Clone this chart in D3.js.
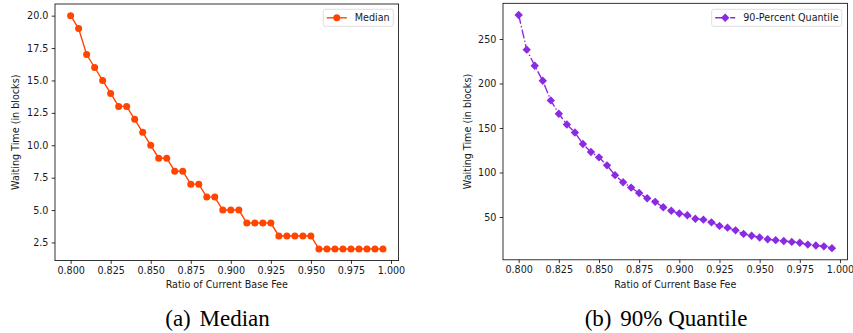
<!DOCTYPE html>
<html>
<head>
<meta charset="utf-8">
<script src="https://cdn.jsdelivr.net/npm/d3@7"></script>
<style>
body { margin: 0; background: #fff; }
svg { display: block; }
.sans { font-family: "DejaVu Sans", sans-serif; fill: #1a1a1a; }
.serif, .serif tspan { font-family: "Liberation Serif", "Times New Roman", serif; fill: #000; }
</style>
</head>
<body>
<svg id="chart" width="853" height="333"></svg>
<script>
// ratio of current base fee (x categories)
const ratios = [0.800, 0.805, 0.810, 0.815, 0.820, 0.825, 0.830, 0.835, 0.840, 0.845,
                0.850, 0.855, 0.860, 0.865, 0.870, 0.875, 0.880, 0.885, 0.890, 0.895,
                0.900, 0.905, 0.910, 0.915, 0.920, 0.925, 0.930, 0.935, 0.940, 0.945,
                0.950, 0.955, 0.960, 0.965, 0.970, 0.975, 0.980, 0.985, 0.990, 0.995];

// waiting time, median
const medianWait = [20, 19, 17, 16, 15, 14, 13, 13, 12, 11,
                    10, 9, 9, 8, 8, 7, 7, 6, 6, 5,
                    5, 5, 4, 4, 4, 4, 3, 3, 3, 3,
                    3, 2, 2, 2, 2, 2, 2, 2, 2, 2];

// waiting time, 90-percent quantile
const quantileWait = [277, 238, 220, 203, 181, 166, 154, 145, 132, 123,
                      117, 108, 97, 89, 83, 77, 71, 67, 61, 57,
                      54, 52, 48, 47, 44, 40, 38, 35, 31, 29,
                      27, 25, 24, 23, 22, 21, 19, 18, 17, 15];

const xTicks = [0.800, 0.825, 0.850, 0.875, 0.900, 0.925, 0.950, 0.975, 1.000];
const medianTicks = [2.5, 5.0, 7.5, 10.0, 12.5, 15.0, 17.5, 20.0];
const quantileTicks = [50, 100, 150, 200, 250];

const svg = d3.select("#chart");

// matplotlib-like 5% padding on a domain
function padded(ext) {
    var m = (ext[1] - ext[0]) * 0.05;
    return [ext[0] - m, ext[1] + m];
}

function drawPanel(p) {
    var x = d3.scaleLinear().domain(padded(d3.extent(ratios))).range([p.left, p.right]);
    var y = d3.scaleLinear().domain(padded(d3.extent(p.values))).range([p.bottom, p.top]);
    var g = svg.append("g");

    // axes
    var xa = g.append("g")
        .attr("transform", "translate(0," + p.bottom + ")")
        .call(d3.axisBottom(x).tickValues(xTicks).tickFormat(d3.format(".3f"))
            .tickSize(3.3).tickPadding(3.3));
    var ya = g.append("g")
        .attr("transform", "translate(" + p.left + ",0)")
        .call(d3.axisLeft(y).tickValues(p.ticks).tickFormat(p.fmt)
            .tickSize(3.3).tickPadding(3.3));
    [xa, ya].forEach(function (a) {
        a.attr("font-family", null).attr("font-size", null);
        a.select(".domain").remove();
        a.selectAll(".tick line").attr("stroke", "#000").attr("stroke-width", 0.8);
        a.selectAll(".tick text").attr("class", "sans").attr("font-size", "9.6px");
    });

    // frame
    g.append("rect")
        .attr("x", p.left).attr("y", p.top)
        .attr("width", p.right - p.left).attr("height", p.bottom - p.top)
        .attr("fill", "none").attr("stroke", "#000").attr("stroke-width", 0.8);

    // axis labels
    g.append("text").attr("class", "sans")
        .attr("x", (p.left + p.right) / 2).attr("y", 288)
        .attr("text-anchor", "middle").attr("font-size", "9.6px")
        .text("Ratio of Current Base Fee");
    g.append("text").attr("class", "sans")
        .attr("transform", "translate(" + p.ylabX + "," + (p.top + p.bottom) / 2 + ") rotate(-90)")
        .attr("text-anchor", "middle").attr("font-size", "9.6px")
        .text("Waiting Time (in blocks)");

    // series line
    var pts = ratios.map(function (r, i) { return [r, p.values[i]]; });
    var line = d3.line().x(function (d) { return x(d[0]); }).y(function (d) { return y(d[1]); });
    g.append("path")
        .attr("d", line(pts))
        .attr("fill", "none").attr("stroke", p.color).attr("stroke-width", 1.4)
        .attr("stroke-dasharray", p.dash);

    // markers
    g.selectAll(".mk").data(pts).enter()
        .append("path")
        .attr("class", "mk")
        .attr("transform", function (d) { return "translate(" + x(d[0]) + "," + y(d[1]) + ")"; })
        .attr("d", p.marker)
        .attr("fill", p.color);

    // legend
    var lg = g.append("g");
    lg.append("rect")
        .attr("x", p.legX).attr("y", 9.3)
        .attr("width", p.legW).attr("height", 17)
        .attr("rx", 2).attr("fill", "#fff").attr("fill-opacity", 0.8)
        .attr("stroke", "#d5d5d5").attr("stroke-width", 0.8);
    lg.append("line")
        .attr("x1", p.legX + 3.5).attr("x2", p.legX + 23.5)
        .attr("y1", 17.8).attr("y2", 17.8)
        .attr("stroke", p.color).attr("stroke-width", 1.4)
        .attr("stroke-dasharray", p.dash);
    lg.append("path")
        .attr("transform", "translate(" + (p.legX + 13.5) + ",17.8)")
        .attr("d", p.marker).attr("fill", p.color);
    lg.append("text").attr("class", "sans")
        .attr("x", p.legX + 31.5).attr("y", 21.2)
        .attr("font-size", "9.6px")
        .text(p.name);

    // caption
    var cap = svg.append("text").attr("class", "serif")
        .attr("x", p.capX).attr("y", 326)
        .attr("text-anchor", "middle")
        .attr("font-size", "23px");
    cap.append("tspan").text(p.capA);
    cap.append("tspan").attr("dx", 3).text(" " + p.capB);
}

var circle = d3.symbol().type(d3.symbolCircle).size(Math.PI * 3.5 * 3.5)();
var diamond = "M0,-4.2L4.2,0L0,4.2L-4.2,0Z";

drawPanel({
    values: medianWait, ticks: medianTicks, fmt: d3.format(".1f"),
    left: 55, right: 398.6, top: 4, bottom: 260.6, ylabX: 19,
    color: "#ff4500", dash: null, marker: circle,
    name: "Median", legX: 323.3, legW: 70,
    capX: 217.5, capA: "(a)", capB: "Median"
});

drawPanel({
    values: quantileWait, ticks: quantileTicks, fmt: d3.format("d"),
    left: 503, right: 847.6, top: 3.3, bottom: 259.8, ylabX: 471,
    color: "#8a2be2", dash: "9,2.3,1.4,2.3", marker: diamond,
    name: "90-Percent Quantile", legX: 711.7, legW: 130,
    capX: 666, capA: "(b)", capB: "90% Quantile"
});
</script>
</body>
</html>
